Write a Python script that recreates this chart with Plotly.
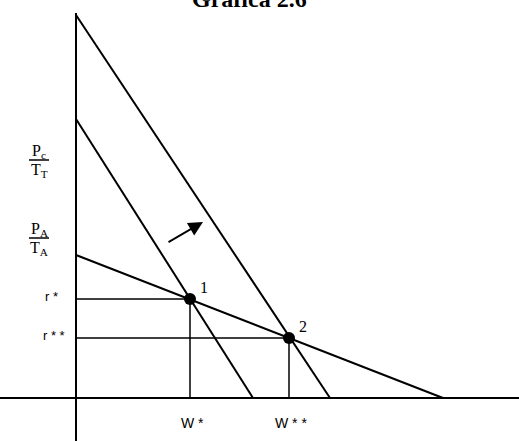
import plotly.graph_objects as go

# Curves defined by intercepts (y-intercept, x-intercept) in chart units
line_names = ["outer", "middle", "flat"]
y_intercepts = [38.3, 27.9, 14.3]
x_intercepts = [25.4, 17.7, 36.7]

# Equilibrium points
pt_labels = ["1", "2"]
pt_x = [11.4, 21.3]
pt_y = [9.9, 6.0]

# Axis labels
w_labels = ["W *", "W * *"]
r_labels = ["r *", "r * *"]

SERIF = "Liberation Serif"
fig = go.Figure()

# axes
fig.add_trace(go.Scatter(x=[0, 0], y=[-4.4, 38.5], mode="lines",
                         line=dict(color="black", width=2), hoverinfo="skip"))
fig.add_trace(go.Scatter(x=[-7.7, 44.4], y=[0, 0], mode="lines",
                         line=dict(color="black", width=2), hoverinfo="skip"))

# demand / supply lines
for yi, xi in zip(y_intercepts, x_intercepts):
    fig.add_trace(go.Scatter(x=[0, xi], y=[yi, 0], mode="lines",
                             line=dict(color="black", width=2), hoverinfo="skip"))

# guide lines to axes
for px, py in zip(pt_x, pt_y):
    fig.add_trace(go.Scatter(x=[0, px], y=[py, py], mode="lines",
                             line=dict(color="black", width=1.5), hoverinfo="skip"))
    fig.add_trace(go.Scatter(x=[px, px], y=[py, 0], mode="lines",
                             line=dict(color="black", width=1.5), hoverinfo="skip"))

# points
fig.add_trace(go.Scatter(x=pt_x, y=pt_y, mode="markers",
                         marker=dict(color="black", size=12), hoverinfo="skip"))

ann = []
for lab, px, py in zip(pt_labels, pt_x, pt_y):
    ann.append(dict(x=px + 1.4, y=py + 1.2, text=lab, showarrow=False,
                    font=dict(family=SERIF, size=16, color="black")))
for lab, px in zip(w_labels, pt_x):
    ann.append(dict(x=px + 0.2, y=-2.5, text=lab, showarrow=False,
                    font=dict(family="Liberation Sans", size=14, color="black")))
for lab, py, dx in zip(r_labels, pt_y, [-2.5, -2.2]):
    ann.append(dict(x=dx, y=py + 0.3, text=lab, showarrow=False,
                    font=dict(family="Liberation Sans", size=13, color="black")))

# fraction labels
fracs = [("P<sub>c</sub>", "T<sub>T</sub>", 23.8), ("P<sub>A</sub>", "T<sub>A</sub>", 16.0)]
shapes = []
for num, den, yb in fracs:
    ann.append(dict(x=-3.7, y=yb + 0.85, text=num, showarrow=False,
                    font=dict(family=SERIF, size=16, color="black")))
    ann.append(dict(x=-3.7, y=yb - 1.0, text=den, showarrow=False,
                    font=dict(family=SERIF, size=16, color="black")))
    shapes.append(dict(type="line", x0=-4.7, x1=-2.7, y0=yb, y1=yb,
                       xref="x", yref="y", line=dict(color="black", width=1.5)))

# shift arrow
ann.append(dict(x=12.7, y=17.6, ax=9.1, ay=15.5, axref="x", ayref="y",
                xref="x", yref="y", showarrow=True, arrowhead=2,
                arrowsize=1.6, arrowwidth=1.8, arrowcolor="black", text=""))

# title (cut at top, as in the reference)
ann.append(dict(x=249 / 519, y=1 - 14 / 441, xref="paper", yref="paper",
                xanchor="center", yanchor="bottom",
                text="<b>Grafica 2.6</b>", showarrow=False,
                font=dict(family=SERIF, size=24, color="black")))

fig.update_layout(
    width=519, height=441,
    margin=dict(l=0, r=0, t=0, b=0),
    paper_bgcolor="white", plot_bgcolor="white",
    showlegend=False,
    xaxis=dict(range=[-7.6, 44.3], visible=False, fixedrange=True),
    yaxis=dict(range=[-4.3, 39.8], visible=False, fixedrange=True),
    annotations=ann, shapes=shapes,
)

fig.write_html("out.html", config={"displayModeBar": False},
               post_script="document.body.style.margin='0';")
